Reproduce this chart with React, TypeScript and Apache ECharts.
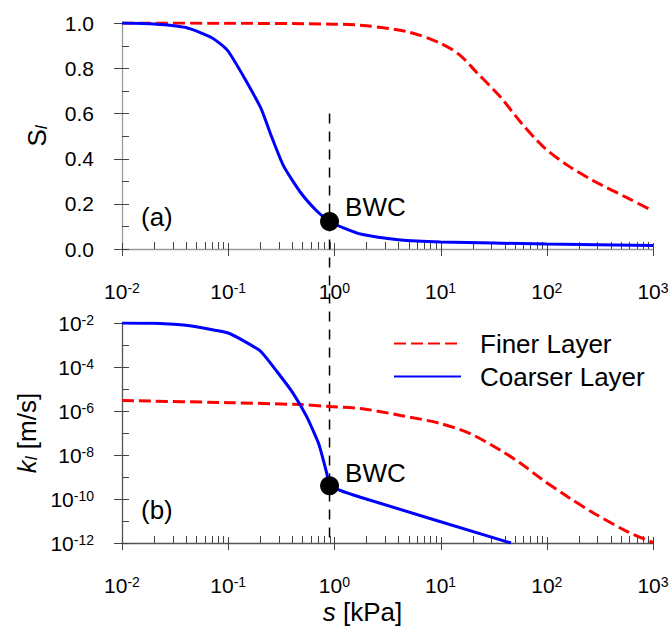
import React, { useEffect, useRef } from "react";
import * as echarts from "echarts";

// (a) degree of saturation vs suction
const sFinerSat = [0.01, 0.1, 1, 2, 5, 10, 15, 22, 37, 57, 94, 157, 280, 580, 1000];
const satFiner = [1.0, 0.999, 0.995, 0.988, 0.96, 0.91, 0.86, 0.78, 0.67, 0.56, 0.45, 0.37, 0.3, 0.225, 0.168];
const sCoarserSat = [0.01, 0.02, 0.04, 0.07, 0.1, 0.2, 0.25, 0.33, 0.48, 0.69, 0.9, 1.2, 1.8, 4, 10, 100, 1000];
const satCoarser = [1.0, 0.996, 0.98, 0.935, 0.875, 0.63, 0.51, 0.37, 0.25, 0.166, 0.122, 0.095, 0.065, 0.041, 0.031, 0.022, 0.016];

// (b) hydraulic conductivity vs suction
const sFinerK = [0.01, 0.1, 0.48, 0.9, 1.76, 4.2, 10, 19, 37, 57, 88, 157, 280, 580, 1000];
const kFiner = [3.0e-6, 2.4e-6, 1.95e-6, 1.6e-6, 1.3e-6, 6.3e-7, 2.7e-7, 9.3e-8, 1.6e-8, 4.1e-9, 8.5e-10, 1.26e-10, 2.2e-11, 3.2e-12, 1.05e-12];
const sCoarserK = [0.01, 0.02, 0.04, 0.1, 0.2, 0.29, 0.41, 0.55, 0.71, 0.85, 0.9, 1.76, 46];
const kCoarser = [1.0e-2, 9.7e-3, 7.9e-3, 3.5e-3, 5.4e-4, 5.9e-5, 6.2e-6, 5.4e-7, 3.3e-8, 1.4e-9, 4.0e-10, 1.2e-10, 1.0e-12];

// breakthrough water content point
const bwcS = [0.9];
const bwcSat = [0.122];
const bwcK = [4.0e-10];
const bwcLineTopSat = 0.6;

// axes
const sMin = 0.01;
const sMax = 1000;
const kMin = 1e-12;
const kMax = 1e-2;
const sDecades = [0.01, 0.1, 1, 10, 100, 1000];
const minorMultipliers = [2, 3, 4, 5, 6, 7, 8, 9];
const satMajorTicks = [0, 0.2, 0.4, 0.6, 0.8, 1.0];
const satMinorTicks = [0.1, 0.3, 0.5, 0.7, 0.9];
const kMajorTicks = [1e-12, 1e-10, 1e-8, 1e-6, 1e-4, 1e-2];
const kMinorTicks = [1e-11, 1e-9, 1e-7, 1e-5, 1e-3];

const FONT = "'Liberation Sans', Arial, sans-serif";
const RED = "#ff0000";
const BLUE = "#0000ff";

const sMinorTicks: number[] = [];
sDecades.slice(0, -1).forEach((d) => minorMultipliers.forEach((m) => sMinorTicks.push(d * m)));

const pairs = (xs: number[], ys: number[]) => xs.map((x, i) => [x, ys[i]]);

const expOf = (v: number) => Math.round(Math.log10(v));
const expLabel = (v: number) => `{b|10}{s|${expOf(v)}}`;
const expLabelEven = (v: number) => (expOf(v) % 2 === 0 ? `{b|10}{s|${expOf(v)}}` : "");
const expRich = {
  b: { fontSize: 21, fontFamily: FONT, color: "#000" },
  s: { fontSize: 14, fontFamily: FONT, color: "#000", verticalAlign: "top" as const },
};

// ticks drawn through the axes' scales: [value, up(inside) length, down(outside) length]
function xTickSeries(gridIdx: number, yMinVal: number, color: string) {
  const data = [
    ...sDecades.map((v) => [v, yMinVal, 6, 7]),
    ...sMinorTicks.map((v) => [v, yMinVal, 7, 0]),
  ];
  return {
    type: "custom",
    xAxisIndex: gridIdx,
    yAxisIndex: gridIdx,
    silent: true,
    clip: false,
    z: 3,
    data,
    renderItem: (_p: any, api: any) => {
      const c = api.coord([api.value(0), api.value(1)]);
      const x = Math.round(c[0]) + 0.5;
      return {
        type: "line",
        shape: { x1: x, y1: c[1] - api.value(2), x2: x, y2: c[1] + api.value(3) },
        style: { stroke: color, lineWidth: 1 },
      };
    },
  };
}

function yTickSeries(gridIdx: number, major: number[], minor: number[], color: string) {
  const data = [...major.map((v) => [sMin, v, 7, 8]), ...minor.map((v) => [sMin, v, 7, 0])];
  return {
    type: "custom",
    xAxisIndex: gridIdx,
    yAxisIndex: gridIdx,
    silent: true,
    clip: false,
    z: 3,
    data,
    renderItem: (_p: any, api: any) => {
      const c = api.coord([api.value(0), api.value(1)]);
      const y = Math.round(c[1]) + 0.5;
      return {
        type: "line",
        shape: { x1: c[0] - api.value(3), y1: y, x2: c[0] + api.value(2), y2: y },
        style: { stroke: color, lineWidth: 1 },
      };
    },
  };
}

function logXAxis(gridIdx: number, lineColor: string) {
  return {
    type: "log",
    gridIndex: gridIdx,
    logBase: 10,
    min: sMin,
    max: sMax,
    axisLine: { show: true, lineStyle: { color: lineColor, width: 1.3 } },
    axisTick: { show: false },
    minorTick: { show: false },
    splitLine: { show: false },
    axisLabel: { margin: 32, formatter: expLabel, rich: expRich },
  };
}

export default function App() {
  const ref = useRef<HTMLDivElement>(null);

  useEffect(() => {
    const chart = echarts.init(ref.current!, null, { renderer: "svg" });
    const topAxisColor = "#9a9a9a";
    const botAxisColor = "#555555";
    const tickColor = "#444444";

    const option: any = {
      animation: false,
      textStyle: { fontFamily: FONT },
      grid: [
        { left: 122, top: 23, width: 531, height: 226, outerBoundsMode: "none" },
        { left: 122, top: 323, width: 531, height: 220, outerBoundsMode: "none" },
      ],
      legend: {
        data: ["Finer Layer", "Coarser Layer"],
        orient: "vertical",
        left: 393,
        top: 327,
        padding: 0,
        itemGap: 0,
        itemWidth: 67,
        itemHeight: 14,
        itemStyle: { opacity: 0 },
        textStyle: { fontSize: 26, fontFamily: FONT, color: "#000", lineHeight: 33, padding: [0, 0, 0, 14] },
      },
      xAxis: [
        logXAxis(0, topAxisColor),
        {
          ...logXAxis(1, botAxisColor),
          name: "{i|s}{n| [kPa]}",
          nameLocation: "middle",
          nameGap: 56,
          nameTextStyle: {
            padding: [0, 50, 0, 0],
            rich: {
              i: { fontSize: 26, fontStyle: "italic", fontFamily: FONT, color: "#000" },
              n: { fontSize: 26, fontFamily: FONT, color: "#000" },
            },
          },
        },
      ],
      yAxis: [
        {
          type: "value",
          gridIndex: 0,
          min: 0,
          max: 1,
          interval: 0.2,
          axisLine: { show: true, lineStyle: { color: topAxisColor, width: 1.3 } },
          axisTick: { show: false },
          splitLine: { show: false },
          axisLabel: { margin: 28, fontSize: 21, color: "#000", formatter: (v: number) => v.toFixed(1) },
          name: "{n|S}{sub|l}",
          nameLocation: "middle",
          nameGap: 72,
          nameTextStyle: {
            rich: {
              n: { fontSize: 26, fontFamily: FONT, color: "#000" },
              sub: { fontSize: 17, fontStyle: "italic", fontFamily: FONT, color: "#000", verticalAlign: "bottom" },
            },
          },
        },
        {
          type: "log",
          gridIndex: 1,
          logBase: 10,
          min: kMin,
          max: kMax,
          axisLine: { show: true, lineStyle: { color: botAxisColor, width: 1.3 } },
          axisTick: { show: false },
          splitLine: { show: false },
          minorTick: { show: false },
          axisLabel: { margin: 28, formatter: expLabelEven, rich: expRich },
          name: "{k|k}{sub|l}{n| [m/s]}",
          nameLocation: "middle",
          nameGap: 82,
          nameTextStyle: {
            rich: {
              k: { fontSize: 26, fontStyle: "italic", fontFamily: FONT, color: "#000" },
              n: { fontSize: 26, fontFamily: FONT, color: "#000" },
              sub: { fontSize: 17, fontStyle: "italic", fontFamily: FONT, color: "#000", verticalAlign: "bottom" },
            },
          },
        },
      ],
      series: [
        xTickSeries(0, 0, tickColor),
        xTickSeries(1, kMin, tickColor),
        yTickSeries(0, satMajorTicks, satMinorTicks, tickColor),
        yTickSeries(1, kMajorTicks, kMinorTicks, tickColor),
        {
          name: "Finer Layer",
          type: "line",
          xAxisIndex: 0,
          yAxisIndex: 0,
          data: pairs(sFinerSat, satFiner),
          showSymbol: false,
          symbol: "none",
          smooth: 0.3,
          lineStyle: { color: RED, width: 3, type: [12, 5] },
          itemStyle: { color: RED },
          z: 4,
        },
        {
          name: "Coarser Layer",
          type: "line",
          xAxisIndex: 0,
          yAxisIndex: 0,
          data: pairs(sCoarserSat, satCoarser),
          showSymbol: false,
          symbol: "none",
          smooth: 0.2,
          lineStyle: { color: BLUE, width: 3 },
          itemStyle: { color: BLUE },
          z: 5,
        },
        {
          name: "Finer Layer",
          type: "line",
          xAxisIndex: 1,
          yAxisIndex: 1,
          data: pairs(sFinerK, kFiner),
          showSymbol: false,
          symbol: "none",
          smooth: 0.3,
          lineStyle: { color: RED, width: 3, type: [12, 5] },
          itemStyle: { color: RED },
          z: 4,
        },
        {
          name: "Coarser Layer",
          type: "line",
          xAxisIndex: 1,
          yAxisIndex: 1,
          data: pairs(sCoarserK, kCoarser),
          showSymbol: false,
          symbol: "none",
          smooth: 0.15,
          lineStyle: { color: BLUE, width: 3 },
          itemStyle: { color: BLUE },
          z: 5,
        },
        {
          name: "BWC a",
          type: "scatter",
          xAxisIndex: 0,
          yAxisIndex: 0,
          data: pairs(bwcS, bwcSat),
          symbol: "circle",
          symbolSize: 19,
          itemStyle: { color: "#000", opacity: 1 },
          label: {
            show: true,
            formatter: "BWC",
            position: "right",
            distance: 6,
            offset: [0, -14],
            fontSize: 26,
            fontFamily: FONT,
            color: "#000",
          },
          z: 6,
        },
        {
          name: "BWC b",
          type: "scatter",
          xAxisIndex: 1,
          yAxisIndex: 1,
          data: pairs(bwcS, bwcK),
          symbol: "circle",
          symbolSize: 19,
          itemStyle: { color: "#000", opacity: 1 },
          label: {
            show: true,
            formatter: "BWC",
            position: "right",
            distance: 6,
            offset: [0, -13],
            fontSize: 26,
            fontFamily: FONT,
            color: "#000",
          },
          z: 6,
        },
      ],
    };

    chart.setOption(option);

    const p1 = chart.convertToPixel({ gridIndex: 0 }, [bwcS[0], bwcLineTopSat]) as number[];
    const p2 = chart.convertToPixel({ gridIndex: 1 }, [bwcS[0], kMin]) as number[];
    chart.setOption({
      graphic: [
        {
          type: "line",
          z: 1,
          silent: true,
          shape: { x1: p1[0], y1: p1[1], x2: p2[0], y2: p2[1] },
          style: { stroke: "#000", lineWidth: 1.5, lineDash: [10, 8] },
        },
        {
          type: "text",
          left: 141,
          top: 204,
          style: { text: "(a)", fontSize: 26, fontFamily: FONT, fill: "#000" },
        },
        {
          type: "text",
          left: 141,
          top: 497,
          style: { text: "(b)", fontSize: 26, fontFamily: FONT, fill: "#000" },
        },
      ],
    });

    return () => chart.dispose();
  }, []);

  return (
    <div
      ref={ref}
      style={{ position: "fixed", left: 0, top: 0, width: 670, height: 626, background: "#fff" }}
    />
  );
}
